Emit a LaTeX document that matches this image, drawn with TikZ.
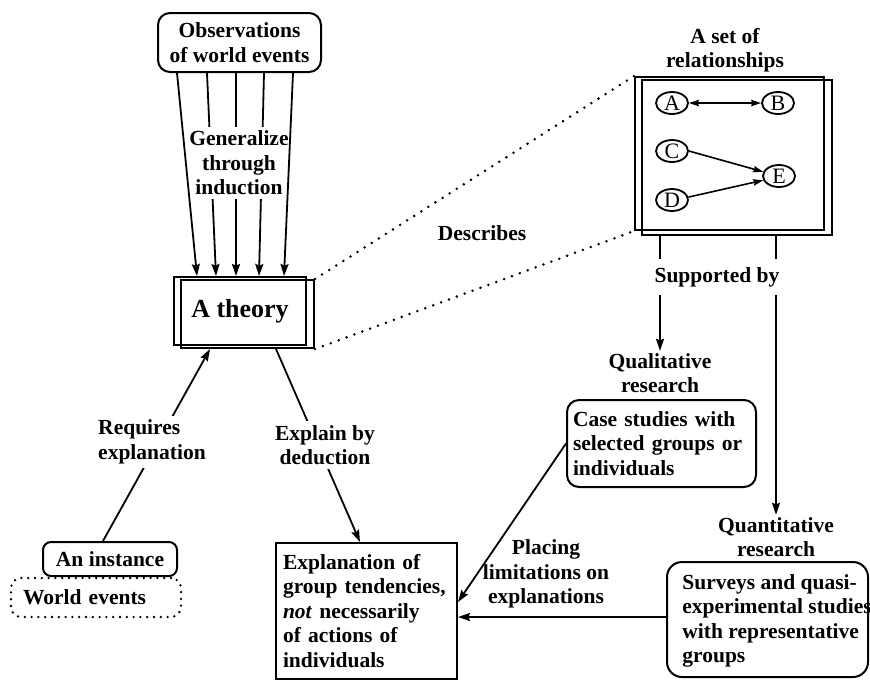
\documentclass[tikz,border=0pt]{standalone}
\usepackage{fontspec}
\setmainfont{Liberation Serif}
\usetikzlibrary{arrows.meta,calc,shapes.geometric}
\begin{document}
\begin{tikzpicture}[x=0.5pt,y=-0.5pt,
  txt/.style={font=\fontsize{10.75}{12.25}\selectfont\bfseries, inner sep=1pt},
  lbl/.style={txt, fill=white, inner sep=2pt},
  rbox/.style={txt, draw, line width=1pt, rounded corners=6pt},
  sbox/.style={txt, draw, line width=1pt},
  arr/.style={line width=0.9pt, -{Stealth[length=6pt,width=4pt,inset=0.8pt]}},
  smallarr/.style={line width=0.8pt, -{Stealth[length=5pt,width=3.2pt,inset=0.6pt]}},
  dots/.style={line width=1.4pt, line cap=round, dash pattern=on 0pt off 4.2pt},
  circ/.style={draw, ellipse, line width=0.9pt, minimum width=16pt, minimum height=11pt, inner sep=0pt, font=\fontsize{11}{11}\selectfont}]
\useasboundingbox (0,0) rectangle (870,682);

% top: observations and theory
\node[rbox, align=center, minimum width=81.5pt, minimum height=29.5pt] (obs) at (239.5,42.5) {Observations\\of world events};
\node[sbox, minimum width=66.5pt, minimum height=34pt] (theoryb) at (247.5,314) {};
\node[sbox, minimum width=66pt, minimum height=34pt, font=\fontsize{13}{13}\selectfont\bfseries] (theory) at (240,311) {\raisebox{2.5pt}{A theory}};

\draw[arr] ($(obs.south)+(-32.5,0)$) -- ($(theory.north)+(-24,0)$);
\draw[arr] ($(obs.south)+(-3.5,0)$) -- ($(theory.north)+(-4,0)$);
\draw[arr] ($(obs.south)+(24.5,0)$) -- ($(theory.north)+(19,0)$);
\node[lbl, align=center] (gen) at (239,163) {Generalize\\through\\induction};
\draw[arr] ($(obs.south)+(-62.5,0)$) -- ($(theory.north)+(-43,0)$);
\draw[arr] ($(obs.south)+(53.5,0)$) -- ($(theory.north)+(44,0)$);

% relationships box
\node[txt, align=center] (title) at (725,50) {A set of\\relationships};
\node[sbox, minimum width=95pt, minimum height=77.5pt] (relb) at (737,157.5) {};
\node[sbox, minimum width=94.5pt, minimum height=76.5pt] (rel) at (729.5,153.5) {};
\node[circ] (A) at (672,103) {A};
\node[circ] (B) at (778,103) {B};
\node[circ] (C) at (672,151) {C};
\node[circ] (D) at (672,200) {D};
\node[circ] (E) at (779,176) {E};
\draw[smallarr, {Stealth[length=5pt,width=3.2pt,inset=0.6pt]}-{Stealth[length=5pt,width=3.2pt,inset=0.6pt]}] (A) -- (B);
\draw[smallarr] (C.east) -- (E.165);
\draw[smallarr] (D.10) -- (E.195);

% describes
\draw[dots] (theoryb.north east) -- (rel.north west);
\draw[dots] (theoryb.south east) -- (rel.south west);
\node[txt] (desc) at (482,233) {Describes};

% supported by
\node[txt, align=center] (qual) at (660,373) {Qualitative\\research};
\node[txt, align=center] (quant) at (776,537) {Quantitative\\research};
\draw[arr] ($(relb.south)+(-77,0)$) -- (qual.north);
\draw[arr] ($(relb.south)+(39,0)$) -- (quant.north);
\node[lbl, inner ysep=4pt] (sup) at (717,277) {Supported by};

\node[rbox, align=left, inner xsep=3pt, text width=88.5pt, minimum height=43.5pt] (case) at (661.5,443.5) {Case studies with\\selected groups or\\individuals};
\node[draw, line width=1pt, rounded corners=7.5pt, minimum width=100.5pt, minimum height=57.5pt] (surveys) at (767.5,619.5) {};
\node[txt, align=left, anchor=west, inner sep=0pt] (surveystext) at (682,621) {Surveys and quasi-\\experimental studies\\with representative\\groups};

% lower left
\node[sbox, align=left, inner xsep=3.5pt, text width=83.5pt, minimum height=68pt] (expl) at (366.5,611) {Explanation of\\group tendencies,\\\textit{not} necessarily\\of actions of\\individuals};
\node[rbox, rounded corners=4pt, minimum width=67pt, minimum height=17pt] (inst) at (110,559) {An instance};
\node[txt, draw, line width=1.3pt, line cap=round, dash pattern=on 0pt off 3.4pt, rounded corners=5pt, align=left, text width=73pt, inner xsep=6pt, minimum height=19.5pt] (world) at (96,597.5) {World events};

\draw[arr] ($(inst.north)+(-7,0)$) -- ($(theoryb.south)+(-37.5,0)$);
\node[lbl, align=left] (req) at (152,442) {Requires\\explanation};
\draw[arr] ($(theoryb.south)+(28.5,0)$) -- ($(expl.north)+(-6.5,0)$);
\node[lbl, align=center] (ded) at (325,445) {Explain by\\deduction};

\draw[arr] (case.west) -- ($(expl.east)+(0,-9)$);
\draw[arr] ($(surveys.west)+(0,-2.5)$) -- ($(expl.east)+(0,6)$);
\node[txt, align=center] (place) at (546,574) {Placing\\limitations on\\explanations};
\end{tikzpicture}
\end{document}
